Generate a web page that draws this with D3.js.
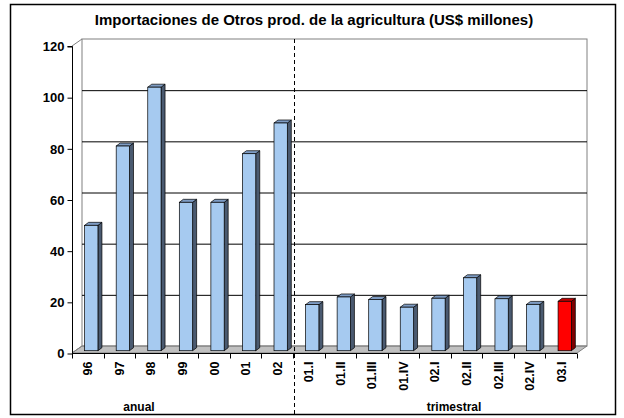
<!DOCTYPE html>
<html><head><meta charset="utf-8">
<script src="https://cdn.jsdelivr.net/npm/d3@7"></script>
<style>body{margin:0;background:#fff}svg{display:block}text{font-family:"Liberation Sans",Arial,sans-serif;font-weight:bold;fill:#000}</style>
</head><body>
<script>
const categories = ["96","97","98","99","00","01","02","01.I","01.II","01.III","01.IV","02.I","02.II","02.III","02.IV","03.I"];
const values = [49,80,103,58,58,77,89,18,21,20,17,20.5,28.5,20.3,18.1,19.3];
const highlight = [false,false,false,false,false,false,false,false,false,false,false,false,false,false,false,true];
const yTicks = [0,20,40,60,80,100,120];
const title = "Importaciones de Otros prod. de la agricultura (US$ millones)";
const groupLabels = ["anual","trimestral"];

const W=624,H=418;
const svg=d3.select("body").append("svg").attr("width",W).attr("height",H);

// border
svg.append("rect").attr("x",10.5).attr("y",4.5).attr("width",605).attr("height",410)
  .attr("fill","#fff").attr("stroke","#000").attr("stroke-width",1.5);

const x0=72,x1=577,yBase=353,yTop=46;
const dx=10,dy=-7; // wall depth
const x=d3.scaleBand().domain(categories).range([x0,x1]).padding(0);
const y=d3.scaleLinear().domain([0,120]).range([yBase,yTop]);

// floor
svg.append("path").attr("d",`M${x0},${yBase}L${x1},${yBase}L${x1+dx},${yBase+dy}L${x0+dx},${yBase+dy}Z`)
  .attr("fill","#c0c0c0").attr("stroke","#808080");
// back wall
svg.append("rect").attr("x",x0+dx).attr("y",y(120)+dy).attr("width",x1-x0).attr("height",y(0)-y(120))
  .attr("fill","none").attr("stroke","#808080");
// side wall edges
svg.append("line").attr("x1",x0).attr("y1",y(120)).attr("x2",x0+dx).attr("y2",y(120)+dy).attr("stroke","#808080");
svg.append("line").attr("x1",x0).attr("y1",y(0)).attr("x2",x0+dx).attr("y2",y(0)+dy).attr("stroke","#808080");

// gridlines on back wall
svg.append("g").selectAll("line").data(yTicks.filter(d=>d>0&&d<120)).join("line")
  .attr("x1",x0+dx).attr("x2",x1+dx).attr("y1",d=>y(d)+dy+0.5).attr("y2",d=>y(d)+dy+0.5)
  .attr("stroke","#000");

// y axis
const yAxis=d3.axisLeft(y).tickValues(yTicks).tickSize(5).tickPadding(3);
const ga=svg.append("g").attr("transform",`translate(${x0+0.5},0.5)`).call(yAxis);
ga.select(".domain").attr("stroke","#000").attr("d",`M-5,${y(120)}H0V${y(0)}`);
ga.selectAll("text").style("font-size","13px").style("font-family","Liberation Sans, Arial").style("font-weight","bold");

// bars
const bw=13.3, off=[3.5,-2.3], bd=[4,-3];
const g=svg.append("g");
categories.forEach((c,i)=>{
  const v=values[i];
  const cx=x(c)+x.bandwidth()/2+off[0];
  const l=cx-bw/2, r=cx+bw/2;
  const b=y(0)+off[1], t=y(v)+off[1];
  const front=highlight[i]?"#ff0000":"#a6caf0";
  const side=highlight[i]?"#800000":"#4a5a70";
  const top=highlight[i]?"#c00000":"#7e9cc4";
  g.append("path").attr("d",`M${r},${b}L${r+bd[0]},${b+bd[1]}L${r+bd[0]},${t+bd[1]}L${r},${t}Z`)
   .attr("fill",side).attr("stroke","#000").attr("stroke-width",0.7);
  g.append("path").attr("d",`M${l},${t}L${l+bd[0]},${t+bd[1]}L${r+bd[0]},${t+bd[1]}L${r},${t}Z`)
   .attr("fill",top).attr("stroke","#000").attr("stroke-width",0.7);
  g.append("rect").attr("x",l).attr("y",t).attr("width",bw).attr("height",b-t)
   .attr("fill",front).attr("stroke","#000").attr("stroke-width",0.7);
});

// x axis
const gx=svg.append("g").attr("transform",`translate(0,${yBase+0.5})`);
gx.append("line").attr("x1",x0).attr("x2",x1).attr("stroke","#000");
gx.selectAll("line.t").data(categories.concat(["end"])).join("line").attr("class","t")
  .attr("x1",(d,i)=>Math.round(x0+i*x.bandwidth())+0.5).attr("x2",(d,i)=>Math.round(x0+i*x.bandwidth())+0.5)
  .attr("y1",0).attr("y2",5).attr("stroke","#000");
gx.selectAll("text").data(categories).join("text")
  .attr("transform",d=>`translate(${x(d)+x.bandwidth()/2+4.5},8) rotate(-90)`)
  .attr("text-anchor","end").style("font-size","12.5px").text(d=>d);

// dashed separator
const sepX=Math.round(x(categories[7]))+1.5;
svg.append("line").attr("x1",sepX).attr("x2",sepX).attr("y1",y(120)+dy).attr("y2",414)
  .attr("stroke","#000").attr("stroke-dasharray","4,3");

// group labels
svg.append("text").attr("x",139).attr("y",411).attr("text-anchor","middle").style("font-size","12px").text(groupLabels[0]);
svg.append("text").attr("x",454).attr("y",411).attr("text-anchor","middle").style("font-size","12px").text(groupLabels[1]);

// title
svg.append("text").attr("x",314).attr("y",25).attr("text-anchor","middle").style("font-size","15px").text(title);
</script>
</body></html>
